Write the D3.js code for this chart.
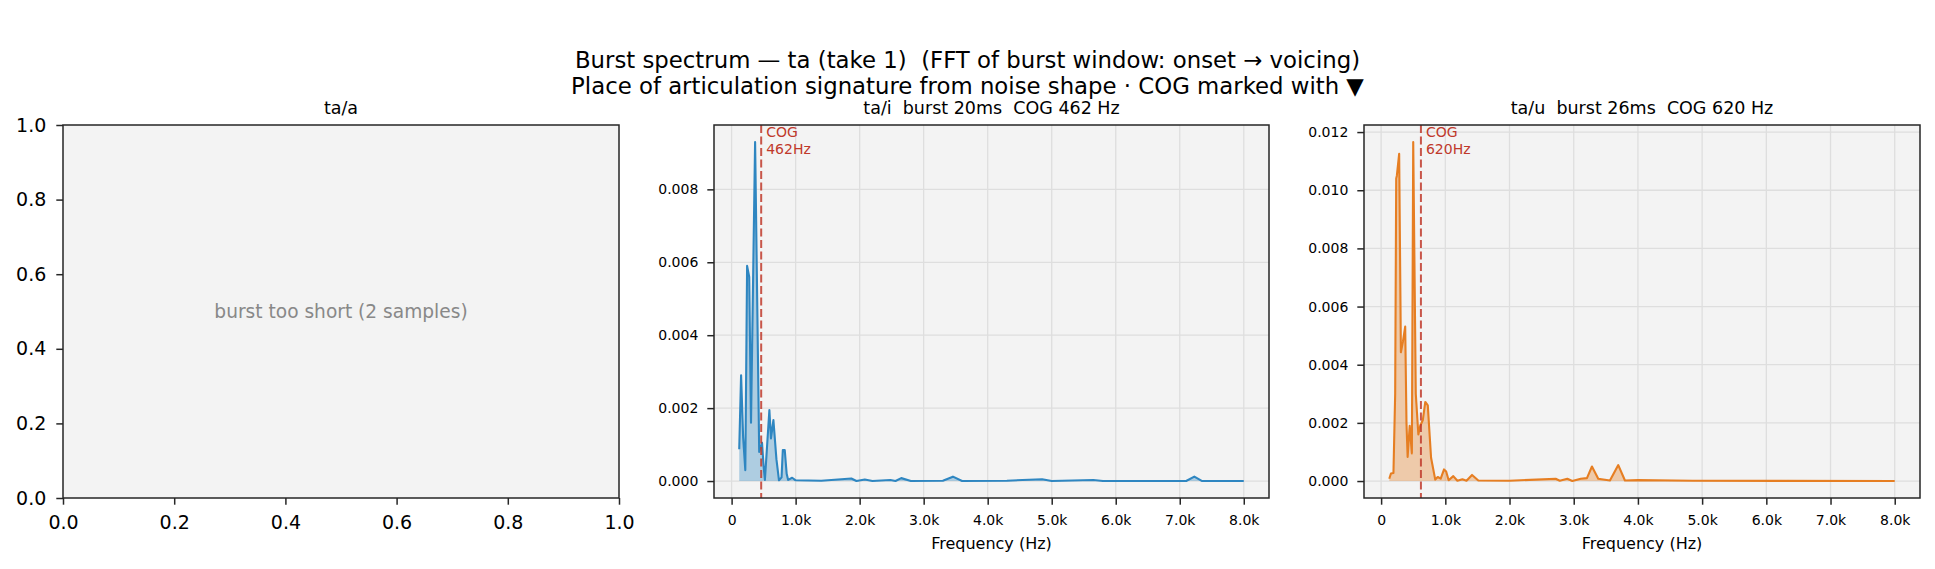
<!DOCTYPE html>
<html>
<head>
<meta charset="utf-8">
<script src="https://cdn.jsdelivr.net/npm/d3@7/dist/d3.min.js"></script>
<style>
  body { margin: 0; background: #fff; }
  svg { display: block; font-family: "DejaVu Sans", sans-serif; }
  text { white-space: pre; }
</style>
</head>
<body>
<div id="chart"></div>
<script>
const suptitleLines = [
  "Burst spectrum \u2014 ta (take 1)  (FFT of burst window: onset \u2192 voicing)",
  "Place of articulation signature from noise shape \u00b7 COG marked with \u25bc"
];
const panelTitles = ["ta/a", "ta/i  burst 20ms  COG 462 Hz", "ta/u  burst 26ms  COG 620 Hz"];
const emptyNote = "burst too short (2 samples)";

// ta/i spectrum (Hz, magnitude)
const freqI = [119, 148, 180, 214, 242, 275, 303, 367, 431, 475, 500, 520, 590, 615, 653, 700, 740,
  780, 800, 830, 860, 883, 946, 1000, 1400, 1870, 1950, 2080, 2200, 2480, 2560, 2650, 2800,
  3300, 3457, 3600, 4300, 4850, 5000, 5650, 5800, 7100, 7228, 7350, 8000];
const magI = [0.00087, 0.0029, 0.0012, 0.0003, 0.0059, 0.0056, 0.0016, 0.0093, 0.0008, 0.00105, 0.0004, 0.00003,
  0.00195, 0.00117, 0.00167, 0.0006, 0.00002, 0.0001, 0.00085, 0.00085, 0.0002, 0.00003, 0.00009,
  0.00002, 0.00001, 0.00007, 0.0, 0.00004, 0.0, 0.00003, 0.0, 0.00008, 0.0, 0.00001, 0.00012, 0.0,
  0.00001, 0.00005, 0.0, 0.00003, 0.0, 0.0, 0.00012, 0.0, 0.0];

// ta/u spectrum (Hz, magnitude)
const freqU = [127, 153, 192, 219, 235, 245, 281, 308, 340, 375, 395, 413, 445, 479, 500, 540, 580, 610,
  650, 688, 727, 778, 843, 882, 928, 980, 1013, 1052, 1124, 1188, 1266, 1330, 1416, 1514, 2000,
  2718, 2783, 2900, 2978, 3109, 3206, 3284, 3382, 3564, 3694, 3798, 4000, 4850, 8000];
const magU = [0.00008, 0.00026, 0.00028, 0.003, 0.0104, 0.0105, 0.01125, 0.00443, 0.0048, 0.00531, 0.002,
  0.00083, 0.0019, 0.00095, 0.01166, 0.003, 0.0016, 0.0019, 0.0021, 0.00272, 0.0026, 0.0008, 0.00005,
  0.00014, 0.00008, 0.0004, 0.00033, 0.00003, 0.00017, 0.00001, 0.00006, 0.00001, 0.00021, 0.00002,
  0.00001, 0.00008, 0.00001, 0.00008, 0.0, 0.00008, 0.0001, 0.0005, 0.00008, 0.00002, 0.00055,
  0.00002, 0.00003, 0.00001, 0.0];

const cogI = 462;
const cogU = 620;

const freqTicks = [0, 1000, 2000, 3000, 4000, 5000, 6000, 7000, 8000];
const magTicksI = [0, 0.002, 0.004, 0.006, 0.008];
const magTicksU = [0, 0.002, 0.004, 0.006, 0.008, 0.010, 0.012];
const unitTicks = [0, 0.2, 0.4, 0.6, 0.8, 1.0];

const W = 1935, H = 569;
const axTop = 125, axBottom = 498;
const boxes = [
  { left: 63, right: 619 },
  { left: 714, right: 1269 },
  { left: 1364, right: 1920 }
];
const faceColor = "#f3f3f3";
const spineColor = "#262626";
const gridColor = "#dedede";
const cogColor = "#c0392b";

const svg = d3.select("#chart").append("svg")
  .attr("width", W)
  .attr("height", H);

svg.append("rect").attr("width", W).attr("height", H).attr("fill", "#fff");

svg.selectAll(".suptitle")
  .data(suptitleLines)
  .enter()
  .append("text")
  .attr("class", "suptitle")
  .attr("x", W / 2)
  .attr("y", (d, i) => 68 + i * 26)
  .attr("text-anchor", "middle")
  .style("font-size", "22.8px")
  .attr("fill", "#000")
  .text(d => d);

function styleAxis(g, fontSize) {
  g.select(".domain").remove();
  g.selectAll(".tick line").attr("stroke", spineColor).attr("stroke-width", 1.5);
  g.selectAll(".tick text")
    .attr("fill", "#000")
    .style("font-size", fontSize + "px")
    .style("font-family", "DejaVu Sans");
}

function frame(g, w, h) {
  g.append("rect")
    .attr("width", w)
    .attr("height", h)
    .attr("fill", "none")
    .attr("stroke", spineColor)
    .attr("stroke-width", 1.5);
}

function panelTitle(box, title) {
  svg.append("text")
    .attr("x", (box.left + box.right) / 2)
    .attr("y", axTop - 11.5)
    .attr("text-anchor", "middle")
    .style("font-size", "17.5px")
    .attr("fill", "#000")
    .text(title);
}

function drawEmptyPanel(box, title) {
  const w = box.right - box.left;
  const h = axBottom - axTop;
  const g = svg.append("g").attr("transform", `translate(${box.left},${axTop})`);

  const x = d3.scaleLinear().domain([0, 1]).range([0, w]);
  const y = d3.scaleLinear().domain([0, 1]).range([h, 0]);

  g.append("rect").attr("width", w).attr("height", h).attr("fill", faceColor);

  g.append("text")
    .attr("x", x(0.5))
    .attr("y", y(0.5))
    .attr("dy", "0.35em")
    .attr("text-anchor", "middle")
    .attr("fill", "#888")
    .style("font-size", "18.6px")
    .text(emptyNote);

  g.append("g")
    .attr("transform", `translate(0,${h})`)
    .call(d3.axisBottom(x).tickValues(unitTicks).tickFormat(d3.format(".1f")).tickSize(6.7).tickPadding(10.5))
    .call(a => styleAxis(a, 19));

  g.append("g")
    .call(d3.axisLeft(y).tickValues(unitTicks).tickFormat(d3.format(".1f")).tickSize(6.7).tickPadding(10))
    .call(a => styleAxis(a, 19));

  frame(g, w, h);
  panelTitle(box, title);
}

function drawSpectrum(box, title, freq, mag, cog, color, magTicks) {
  const w = box.right - box.left;
  const h = axBottom - axTop;
  const g = svg.append("g").attr("transform", `translate(${box.left},${axTop})`);
  const points = freq.map((f, i) => ({ f: f, m: mag[i] }));

  const fExt = d3.extent(freq);
  const fPad = (fExt[1] - fExt[0]) * 0.05;
  const mMax = d3.max(mag);

  const x = d3.scaleLinear().domain([fExt[0] - fPad, fExt[1] + fPad]).range([0, w]);
  const y = d3.scaleLinear().domain([-0.05 * mMax, 1.05 * mMax]).range([h, 0]);

  g.append("rect").attr("width", w).attr("height", h).attr("fill", faceColor);

  g.append("g")
    .selectAll("line")
    .data(freqTicks)
    .enter()
    .append("line")
    .attr("x1", d => x(d)).attr("x2", d => x(d))
    .attr("y1", 0).attr("y2", h)
    .attr("stroke", gridColor).attr("stroke-width", 1.3);

  g.append("g")
    .selectAll("line")
    .data(magTicks)
    .enter()
    .append("line")
    .attr("x1", 0).attr("x2", w)
    .attr("y1", d => y(d)).attr("y2", d => y(d))
    .attr("stroke", gridColor).attr("stroke-width", 1.3);

  const area = d3.area()
    .x(d => x(d.f))
    .y0(y(0))
    .y1(d => y(d.m));

  const line = d3.line()
    .x(d => x(d.f))
    .y(d => y(d.m));

  g.append("path")
    .datum(points)
    .attr("d", area)
    .attr("fill", color)
    .attr("fill-opacity", 0.35);

  g.append("path")
    .datum(points)
    .attr("d", line)
    .attr("fill", "none")
    .attr("stroke", color)
    .attr("stroke-width", 2.1)
    .attr("stroke-linejoin", "round");

  g.append("line")
    .attr("x1", x(cog)).attr("x2", x(cog))
    .attr("y1", 0).attr("y2", h)
    .attr("stroke", cogColor)
    .attr("stroke-opacity", 0.85)
    .attr("stroke-width", 2)
    .attr("stroke-dasharray", "8,3.5");

  g.append("text")
    .attr("x", x(cog) + 5)
    .attr("y", 12)
    .attr("fill", cogColor)
    .style("font-size", "14px")
    .selectAll("tspan")
    .data(["COG", cog + "Hz"])
    .enter()
    .append("tspan")
    .attr("x", x(cog) + 5)
    .attr("dy", (d, i) => i === 0 ? 0 : 17)
    .text(d => d);

  g.append("g")
    .attr("transform", `translate(0,${h})`)
    .call(d3.axisBottom(x).tickValues(freqTicks)
      .tickFormat(d => d === 0 ? "0" : (d / 1000).toFixed(1) + "k")
      .tickSize(6.7).tickPadding(10))
    .call(a => styleAxis(a, 14));

  g.append("g")
    .call(d3.axisLeft(y).tickValues(magTicks).tickFormat(d3.format(".3f")).tickSize(6.7).tickPadding(9))
    .call(a => styleAxis(a, 14));

  g.append("text")
    .attr("x", w / 2)
    .attr("y", h + 51)
    .attr("text-anchor", "middle")
    .style("font-size", "16px")
    .attr("fill", "#000")
    .text("Frequency (Hz)");

  frame(g, w, h);
  panelTitle(box, title);
}

drawEmptyPanel(boxes[0], panelTitles[0]);
drawSpectrum(boxes[1], panelTitles[1], freqI, magI, cogI, "#2e86c1", magTicksI);
drawSpectrum(boxes[2], panelTitles[2], freqU, magU, cogU, "#e67e22", magTicksU);
</script>
</body>
</html>
